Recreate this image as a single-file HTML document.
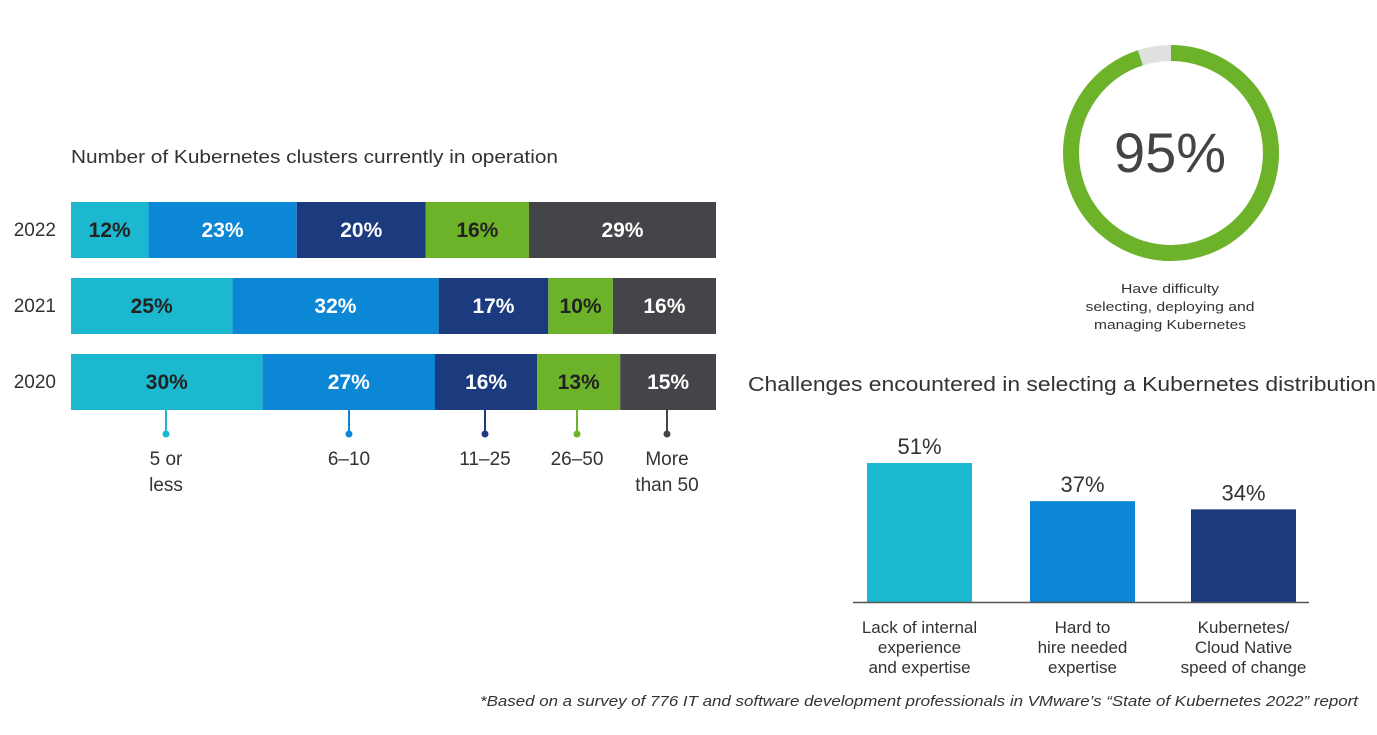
<!DOCTYPE html>
<html><head><meta charset="utf-8"><style>
body{margin:0;width:1377px;height:730px;background:#fff;overflow:hidden;font-family:"Liberation Sans",sans-serif}
svg text{font-family:"Liberation Sans",sans-serif}
</style></head><body>
<svg id="c" width="1377" height="730">
<text x="71" y="163" font-size="18" fill="#333" textLength="487" lengthAdjust="spacingAndGlyphs">Number of Kubernetes clusters currently in operation</text>
<text x="748" y="391" font-size="20" fill="#333" textLength="628" lengthAdjust="spacingAndGlyphs">Challenges encountered in selecting a Kubernetes distribution</text>
<text x="480" y="706" font-size="15" font-style="italic" fill="#333" textLength="878" lengthAdjust="spacingAndGlyphs">*Based on a survey of 776 IT and software development professionals in VMware’s “State of Kubernetes 2022” report</text>
<g id="donut"></g>
<text x="1170" y="172" font-size="56" fill="#444" text-anchor="middle">95%</text>
<text x="1170" y="293" font-size="13" fill="#333" text-anchor="middle" textLength="98" lengthAdjust="spacingAndGlyphs">Have difficulty</text>
<text x="1170" y="311" font-size="13" fill="#333" text-anchor="middle" textLength="169" lengthAdjust="spacingAndGlyphs">selecting, deploying and</text>
<text x="1170" y="329" font-size="13" fill="#333" text-anchor="middle" textLength="152" lengthAdjust="spacingAndGlyphs">managing Kubernetes</text>
<g id="stack"></g><g id="bars"></g>
</svg>
<script>
const years=["2022","2021","2020"];
const s5orLess=[12,25,30];
const s6to10=[23,32,27];
const s11to25=[20,17,16];
const s26to50=[16,10,13];
const sMore50=[29,16,15];
const seriesLabels=["5 or|less","6–10","11–25","26–50","More|than 50"];
const challengeCats=["Lack of internal|experience|and expertise","Hard to|hire needed|expertise","Kubernetes/|Cloud Native|speed of change"];
const challengeVals=[51,37,34];
const donutVal=95;
const NS="http://www.w3.org/2000/svg";
function mk(p,t,a){const e=document.createElementNS(NS,t);for(const k in a)e.setAttribute(k,a[k]);p.appendChild(e);return e;}
const colors=["#1bb8cf","#0c87d6","#1b3b7e","#6db32a","#434549"];
const series=[s5orLess,s6to10,s11to25,s26to50,sMore50];
const st=document.getElementById('stack');
const x0=71,W=645,rowY=i=>202+i*76,rowH=56;
years.forEach((y,i)=>{
 const t=mk(st,'text',{x:56,y:rowY(i)+34,'font-size':19,fill:'#333','text-anchor':'end'});t.textContent=y;
 
 
 const tot=series.reduce((s,a)=>s+a[i],0);let x=x0;
 series.forEach((a,j)=>{const w=a[i]/tot*W;
  const r=mk(st,'rect',{x:x,y:rowY(i),width:w,height:rowH,fill:colors[j]});
  
  
  const tx=mk(st,'text',{x:x+w/2,y:rowY(i)+35,'font-size':21,'font-weight':'bold','text-anchor':'middle',fill:(j==0||j==3)?'#222':'#fff'});
  tx.textContent=a[i]+'%';
  
  
  x+=w;});
});
const legX=[166,349,485,577,667];
seriesLabels.forEach((l,j)=>{const lx=legX[j];
 const ln=mk(st,'line',{x1:lx,y1:410,x2:lx,y2:434,stroke:colors[j],'stroke-width':2});
 
 
 const c=mk(st,'circle',{cx:lx,cy:434,r:3.5,fill:colors[j]});
 
 
 l.split('|').forEach((p,k)=>{const t=mk(st,'text',{x:lx,y:465+k*26,'font-size':19,fill:'#333','text-anchor':'middle'});t.textContent=p;
  
  });
});
const dg=document.getElementById('donut');const cx=1171,cy=153,R=100;
mk(dg,'circle',{cx:cx,cy:cy,r:R,fill:'none',stroke:'#e0e0e0','stroke-width':16});
const circ=2*Math.PI*R;
const arc=mk(dg,'circle',{cx:cx,cy:cy,r:R,fill:'none',stroke:'#6db32a','stroke-width':16,'stroke-dasharray':(donutVal/100*circ)+' '+circ,transform:`rotate(-90 ${cx} ${cy})`});


const bg=document.getElementById('bars');const base=602,k=139/51;
const bx=[867,1030,1191],bw=105;
challengeVals.forEach((v,i)=>{const h=v*k;
 const r=mk(bg,'rect',{x:bx[i],y:base-h,width:bw,height:h,fill:colors[i]});
 
 
 const t=mk(bg,'text',{x:bx[i]+bw/2,y:base-h-9,'font-size':22,fill:'#333','text-anchor':'middle'});t.textContent=v+'%';
 
 
 challengeCats[i].split('|').forEach((p,j)=>{const tt=mk(bg,'text',{x:bx[i]+bw/2,y:633+j*20,'font-size':17,fill:'#333','text-anchor':'middle'});tt.textContent=p;
  
  });
});
const ax=mk(bg,'line',{x1:853,y1:base+0.5,x2:1309,y2:base+0.5,stroke:'#555','stroke-width':1.5});


</script>
</body></html>
